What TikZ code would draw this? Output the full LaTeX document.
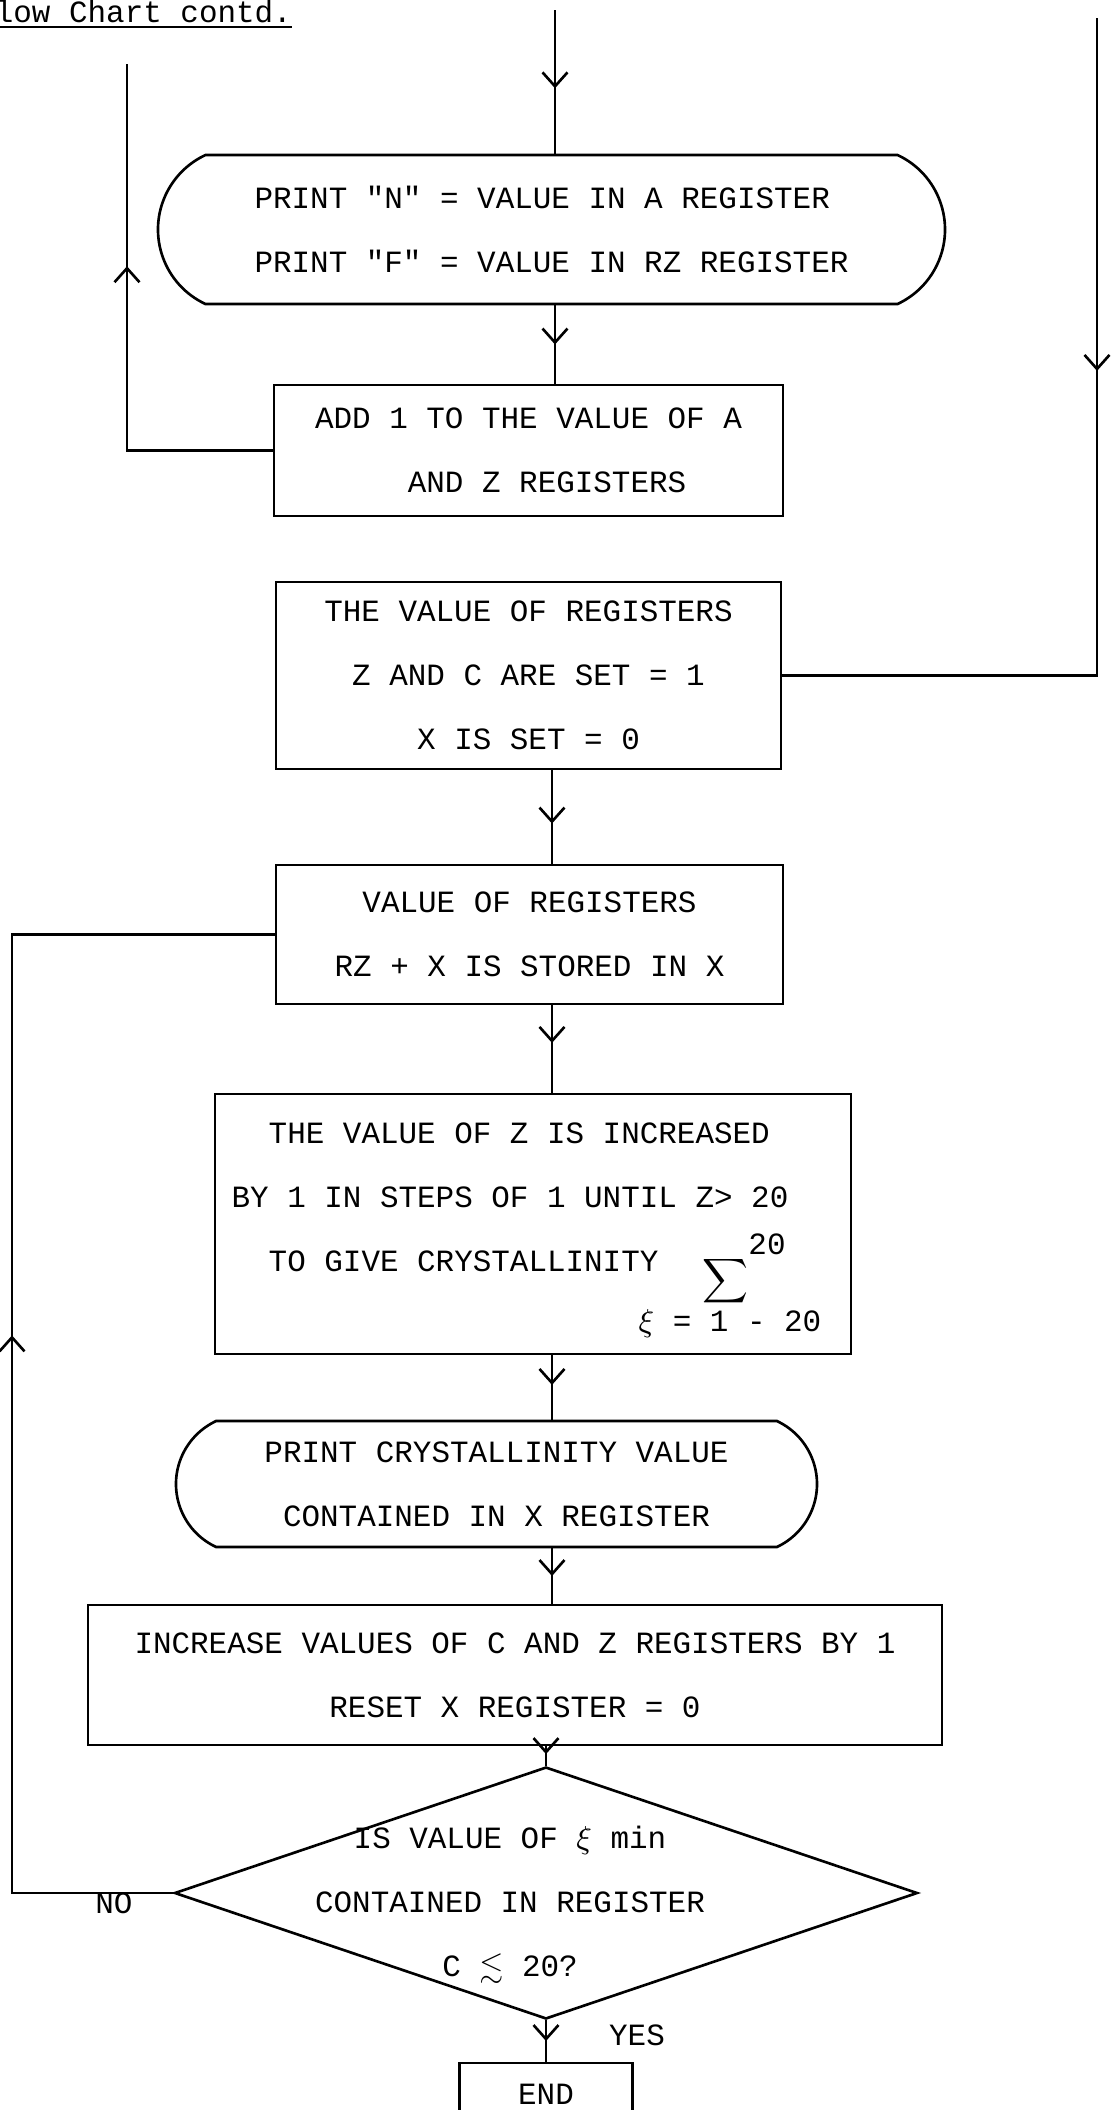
\documentclass[tikz,border=0pt]{standalone}
\usepackage{amsmath}
\usepackage{amssymb}
\usepackage{fontspec}
\setmonofont{Liberation Mono}
\usetikzlibrary{shapes.geometric,shapes.misc,arrows.meta,decorations.markings}

\begin{document}
\begin{tikzpicture}[x=1mm, y=-1mm, line width=0.75pt,
    every node/.style={font=\ttfamily\fontsize{8.8}{18.2}\selectfont},
    box/.style={draw, rectangle, align=center, inner sep=0pt},
    term/.style={draw, rounded rectangle, rounded rectangle arc length=130, inner sep=0pt},
    midarr/.style={postaction={decorate}, decoration={markings,
        mark=at position #1 with {\arrow{Straight Barb[length=1.4mm,width=2.5mm]}}}}]
  \useasboundingbox (0,0) rectangle (111.3,211);
  \clip (0,0) rectangle (111.3,211);

  \node[anchor=base west, inner sep=0pt] (title) at (-2.5,2.2) {\underline{Flow Chart contd.}};

  % boxes
  \node[term, align=left, minimum width=78.7mm, minimum height=14.9mm] (printNF) at (55.15,22.95)
    {PRINT "N" = VALUE IN A REGISTER\\PRINT "F" = VALUE IN RZ REGISTER};
  \node[box, minimum width=50.9mm, minimum height=13.1mm] (addA) at (52.85,45.05)
    {ADD 1 TO THE VALUE OF A\\\phantom{XX}AND Z REGISTERS};
  \node[box, minimum width=50.5mm, minimum height=18.7mm] (setB) at (52.85,67.55)
    {THE VALUE OF REGISTERS\\Z AND C ARE SET = 1\\X IS SET = 0};
  \node[box, minimum width=50.7mm, minimum height=13.9mm] (sumC) at (52.95,93.45)
    {VALUE OF REGISTERS\\RZ + X IS STORED IN X};
  \node[box, minimum width=63.6mm, minimum height=26mm] (incZ) at (53.3,122.4) {};
    \node[align=left, inner sep=0pt] (incZtxt) at (51.0,119.7)
      {\phantom{XX}THE VALUE OF Z IS INCREASED\\BY 1 IN STEPS OF 1 UNTIL Z> 20\\\phantom{XX}TO GIVE CRYSTALLINITY};
    \node[inner sep=0pt] (sig) at (72.5,128.1) {$\displaystyle\sum$};
    \node[inner sep=0pt] (sigup) at (76.7,124.4) {20};
    \node[inner sep=0pt] (siglow) at (73.0,132.4) {$\xi$ = 1 - 20};
  \node[term, align=center, minimum width=64.1mm, minimum height=12.6mm] (printX) at (49.65,148.4)
    {PRINT CRYSTALLINITY VALUE\\CONTAINED IN X REGISTER};
  \node[box, minimum width=85.4mm, minimum height=14mm] (incCZ) at (51.5,167.5)
    {INCREASE VALUES OF C AND Z REGISTERS BY 1\\RESET X REGISTER = 0};
  \node[draw, diamond, inner sep=0pt, minimum width=74.3mm, minimum height=25.2mm] (dec) at (54.6,189.3) {};
    \node[align=center, inner sep=0pt] (dectxt) at (51.0,190.5)
      {IS VALUE OF $\xi$ min\\CONTAINED IN REGISTER\\C $\lesssim$ 20?};
  \node[box, minimum width=17.3mm, minimum height=6.2mm] (endB) at (54.6,209.4) {END};

  \node (no) at (11.4,190.3) {NO};
  \node (yes) at (63.7,203.5) {YES};

  % connectors
  \coordinate (topin) at (55.5,1.0);
  \coordinate (loopL) at (12.7,6.4);
  \coordinate (loopR) at (109.7,1.8);
  \coordinate (noL) at (1.2,0);
  \coordinate (sp) at (55.2,0);

  \draw[midarr=0.545] (topin) -- (topin |- printNF.north);
  \draw[midarr=0.5] (printNF.south -| topin) -- (addA.north -| topin);
  \draw[midarr=0.62] (addA.west) -| (loopL);
  \draw[midarr=0.363] (loopR) |- (setB.east);
  \draw[midarr=0.57] (setB.south -| sp) -- (sumC.north -| sp);
  \draw[midarr=0.52] (dec.west) -- (dec.west -| noL) |- (sumC.west);
  \draw[midarr=0.43] (sumC.south -| sp) -- (incZ.north -| sp);
  \draw[midarr=0.46] (incZ.south -| sp) -- (printX.north -| sp);
  \draw[midarr=0.5] (printX.south -| sp) -- (incCZ.north -| sp);
  \draw[midarr=0.4] (incCZ.south -| dec.north) -- (dec.north);
  \draw[midarr=0.5] (dec.south) -- (dec.south |- endB.north);
\end{tikzpicture}
\end{document}
